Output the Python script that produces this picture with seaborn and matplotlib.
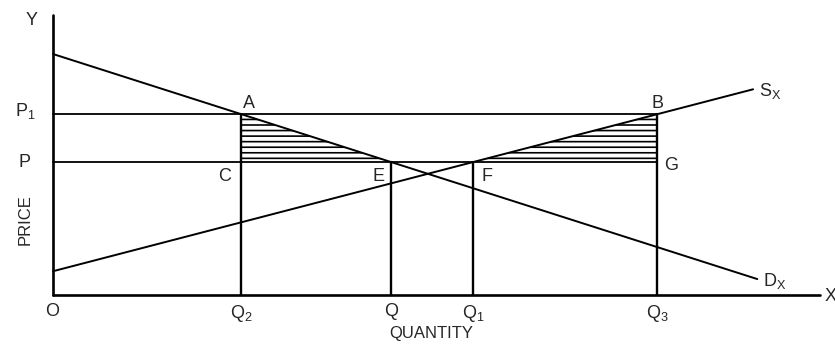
import numpy as np
import pandas as pd
import seaborn as sns
import matplotlib.pyplot as plt

# curves: (quantity, price)
demand_q = [0, 100.6]
demand_p = [86.1, 5.7]
supply_q = [0, 100]
supply_p = [8.5, 73.5]
price_levels = {"P1": 64.6, "P": 47.5}
axis_len = [109.6, 100]

sns.set_style("white")
plt.rcParams['font.family'] = ['Liberation Sans', 'DejaVu Sans']
plt.rcParams['hatch.linewidth'] = 1.2


def q_at(qs, ps, price):
    # quantity on a straight line at a given price
    return qs[0] + (price - ps[0]) * (qs[1] - qs[0]) / (ps[1] - ps[0])


P1 = price_levels["P1"]
P = price_levels["P"]
Q2 = q_at(demand_q, demand_p, P1)
Qe = q_at(demand_q, demand_p, P)
Q1 = q_at(supply_q, supply_p, P)
Q3 = q_at(supply_q, supply_p, P1)

fig = plt.figure(figsize=(8.35, 3.44), dpi=100)
ax = fig.add_axes([0, 0, 1, 1])
ax.set_xlim(-7.57, 111.7)
ax.set_ylim(-17.5, 105.4)
ax.axis('off')

# axes
ax.plot([0, 0], [0, axis_len[1]], color='k', lw=1.9)
ax.plot([0, axis_len[0]], [0, 0], color='k', lw=1.9)

# demand and supply
curves = pd.concat([
    pd.DataFrame({'q': demand_q, 'p': demand_p, 'curve': 'D'}),
    pd.DataFrame({'q': supply_q, 'p': supply_p, 'curve': 'S'}),
])
sns.lineplot(data=curves, x='q', y='p', units='curve', estimator=None,
             sort=False, color='k', lw=1.4, ax=ax, legend=False)

# price lines and quantity drop lines
ax.plot([0, Q3], [P1, P1], color='k', lw=1.3)
ax.plot([0, Q3], [P, P], color='k', lw=1.3)
for qx, top in [(Q2, P1), (Qe, P), (Q1, P), (Q3, P1)]:
    ax.plot([qx, qx], [0, top], color='k', lw=1.7)

# hatched triangles
ax.fill([Q2, Qe, Q2], [P1, P, P], facecolor='none', edgecolor='k', hatch='---', lw=0)
ax.fill([Q1, Q3, Q3], [P, P1, P], facecolor='none', edgecolor='k', hatch='---', lw=0)

fs = 13
ax.text(-3.0, 98.2, 'Y', ha='center', va='center', fontsize=fs)
ax.text(110.2, -0.7, 'X', ha='left', va='center', fontsize=fs)
ax.text(-4.0, P1 + 1.0, r'$\mathregular{P_1}$', ha='center', va='center', fontsize=fs)
ax.text(-4.0, P, 'P', ha='center', va='center', fontsize=fs)
ax.text(-4.0, 26.8, 'PRICE', ha='center', va='center', rotation=90, fontsize=12)
ax.text(-0.1, -3.0, 'O', ha='center', va='top', fontsize=fs)
for qx, lab in [(Q2, r'$\mathregular{Q_2}$'), (Qe, 'Q'), (Q1, r'$\mathregular{Q_1}$'),
                (Q3, r'$\mathregular{Q_3}$')]:
    ax.text(qx, -3.0, lab, ha='center', va='top', fontsize=fs)
ax.text(54.1, -13.6, 'QUANTITY', ha='center', va='center', fontsize=12)

ax.text(Q2 + 0.2, P1 + 0.8, 'A', ha='left', va='bottom', fontsize=fs)
ax.text(Q3, P1 + 0.8, 'B', ha='center', va='bottom', fontsize=fs)
ax.text(Q2 - 1.5, P - 2.0, 'C', ha='right', va='top', fontsize=fs)
ax.text(Qe - 1.0, P - 2.0, 'E', ha='right', va='top', fontsize=fs)
ax.text(Q1 + 1.2, P - 2.0, 'F', ha='left', va='top', fontsize=fs)
ax.text(Q3 + 1.0, P - 1.2, 'G', ha='left', va='center', fontsize=fs)
ax.text(supply_q[1] + 0.8, supply_p[1] - 0.5, r'$\mathregular{S_X}$', ha='left', va='center', fontsize=fs)
ax.text(demand_q[1] + 0.8, demand_p[1] - 0.8, r'$\mathregular{D_X}$', ha='left', va='center', fontsize=fs)

fig.savefig('out.png', dpi=100)
